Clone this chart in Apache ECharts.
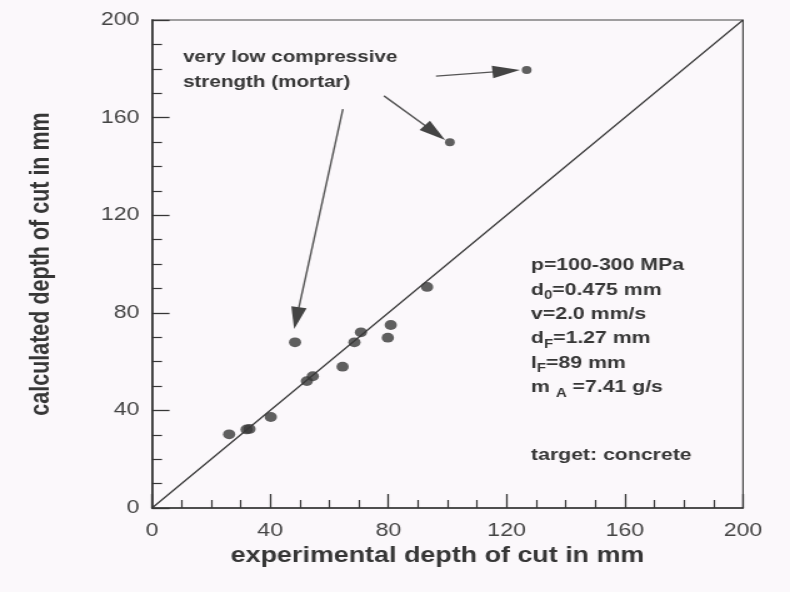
<!DOCTYPE html>
<html>
<head>
<meta charset="utf-8">
<script src="https://cdn.jsdelivr.net/npm/echarts@6/dist/echarts.min.js"></script>
<style>
  html, body { margin: 0; padding: 0; background: #fbf8fb; overflow: hidden; }
  #wrap { width: 790px; height: 592px; overflow: hidden; }
  /* the figure is drawn narrow and widened horizontally, like the printed plate */
  #chart { width: 632px; height: 592px; transform: scaleX(1.25); transform-origin: 0 0; }
</style>
</head>
<body>
<div id="wrap"><div id="chart"></div></div>
<script>
// experimental vs. calculated depth of cut (mm), concrete targets
const experimental = [26.1, 32.0, 33.0, 40.2, 48.4, 52.4, 54.4, 64.5, 68.5, 70.7, 79.8, 80.8, 93.1];
const calculated   = [30.2, 32.2, 32.4, 37.3, 67.9, 52.0, 54.0, 57.9, 67.9, 72.0, 69.8, 75.0, 90.6];
// mortar specimens (very low compressive strength)
const mortarExperimental = [100.8, 126.8];
const mortarCalculated   = [149.9, 179.5];
// line of perfect agreement
const parity = [0, 200];
// axis ticks
const tickValues = [0, 40, 80, 120, 160, 200];
// annotation arrows: tail and head in data units
const arrowTail = [[96.1, 177.0], [78.5, 168.9], [64.6, 163.5]];
const arrowHead = [[124.5, 179.5], [99.2, 150.8], [48.1, 73.4]];
// process parameters
const paramLines = [
  '{n|p=100-300 MPa}',
  '{n|d}{s|0}{n|=0.475 mm}',
  '{n|v=2.0 mm/s}',
  '{n|d}{s|F}{n|=1.27 mm}',
  '{n|l}{s|F}{n|=89 mm}',
  '{n|m }{s|A}{n| =7.41 g/s}',
  '',
  '{n|target: concrete}'
];

const FONT = '"Liberation Sans", Arial, Helvetica, sans-serif';
const INK = '#363636';

const chart = echarts.init(document.getElementById('chart'), null, { renderer: 'canvas' });

const axisCommon = {
  type: 'value',
  min: tickValues[0],
  max: tickValues[tickValues.length - 1],
  interval: tickValues[1] - tickValues[0],
  axisLine: { lineStyle: { color: INK, width: 1.6 } },
  axisTick: { inside: true, length: 14, lineStyle: { color: INK, width: 1.3 } },
  minorTick: { show: true, splitNumber: 4, length: 8, lineStyle: { color: INK, width: 1.2 } },
  splitLine: { show: false },
  nameLocation: 'middle'
};

const paramGraphics = paramLines.map((t, i) => ({
  type: 'text',
  left: 424.8,
  top: 257 + i * 24.4 + (i === 7 ? 19 : 0),
  silent: true,
  style: {
    text: t,
    rich: {
      n: { fontSize: 17, fontWeight: 'bold', fontFamily: FONT, fill: INK, lineHeight: 24, verticalAlign: 'middle' },
      s: { fontSize: 12, fontWeight: 'bold', fontFamily: FONT, fill: INK, lineHeight: 10, verticalAlign: 'bottom' }
    }
  }
}));

const option = {
  animation: false,
  backgroundColor: '#fbf8fb',
  grid: {
    left: 121.6, right: 37.6, top: 20, bottom: 84,
    show: true, borderColor: '#444', borderWidth: 1.2, backgroundColor: 'transparent'
  },
  xAxis: Object.assign({}, axisCommon, {
    name: 'experimental depth of cut in mm',
    nameGap: 31,
    nameTextStyle: { fontSize: 21.5, fontWeight: 'bold', color: INK, fontFamily: FONT, padding: [0, 16, 0, 0] },
    axisLabel: { fontSize: 18.5, color: '#444', fontFamily: FONT, margin: 13 }
  }),
  yAxis: Object.assign({}, axisCommon, {
    name: 'calculated depth of cut in mm',
    nameGap: 78,
    nameTextStyle: { fontSize: 21.5, fontWeight: 'bold', color: INK, fontFamily: FONT },
    axisLabel: { fontSize: 18.5, color: '#444', fontFamily: FONT, margin: 10 }
  }),
  graphic: [
    {
      type: 'text', left: 146.4, top: 45, silent: true,
      style: {
        text: 'very low compressive\nstrength (mortar)',
        font: 'bold 16.5px ' + FONT, fill: INK, lineHeight: 25
      }
    }
  ].concat(paramGraphics),
  series: [
    {
      type: 'line',
      data: [[parity[0], parity[0]], [parity[1], parity[1]]],
      symbol: 'none',
      lineStyle: { color: INK, width: 1.2 },
      silent: true,
      z: 1
    },
    {
      type: 'scatter',
      data: experimental.map((x, i) => [x, calculated[i]]),
      symbol: 'circle',
      symbolSize: 9.8,
      itemStyle: { color: '#383838' },
      z: 3
    },
    {
      type: 'scatter',
      data: mortarExperimental.map((x, i) => [x, mortarCalculated[i]]),
      symbol: 'circle',
      symbolSize: 7.8,
      itemStyle: { color: '#383838' },
      z: 3
    },
    {
      type: 'custom',
      silent: true,
      data: arrowTail.map((t, i) => [t[0], t[1], arrowHead[i][0], arrowHead[i][1]]),
      renderItem: function (params, api) {
        const a = api.coord([api.value(0), api.value(1)]);
        const b = api.coord([api.value(2), api.value(3)]);
        const dx = b[0] - a[0], dy = b[1] - a[1];
        const len = Math.hypot(dx, dy);
        const ux = dx / len, uy = dy / len;
        const L = 22, W = 6.2;
        const base = [b[0] - ux * L, b[1] - uy * L];
        return {
          type: 'group',
          children: [
            { type: 'line', shape: { x1: a[0], y1: a[1], x2: base[0] + ux * 4, y2: base[1] + uy * 4 },
              style: { stroke: '#555', lineWidth: 1.4 } },
            { type: 'polygon',
              shape: { points: [b, [base[0] - uy * W, base[1] + ux * W], [base[0] + uy * W, base[1] - ux * W]] },
              style: { fill: '#444' } }
          ]
        };
      },
      z: 4
    }
  ]
};

chart.setOption(option);
</script>
</body>
</html>
